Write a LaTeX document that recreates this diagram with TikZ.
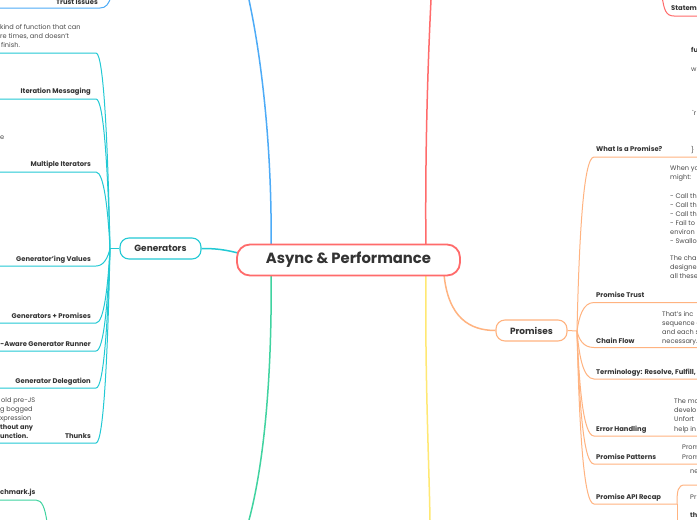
\documentclass[tikz,border=0pt]{standalone}
\usepackage{fontspec}
\setmainfont{Poppins}
\usetikzlibrary{calc}
\definecolor{cred}{HTML}{FF6B6B}
\definecolor{cblue}{HTML}{4DABF7}
\definecolor{ccyan}{HTML}{22C9D4}
\definecolor{cgreen}{HTML}{40D3A0}
\definecolor{cyellow}{HTML}{FFE873}
\definecolor{corange}{HTML}{FFB380}
\definecolor{ink}{HTML}{333333}
\definecolor{bodyink}{HTML}{4A4A4A}
\pgfdeclarelayer{bg}
\pgfsetlayers{bg,main}
\begin{document}
\begin{tikzpicture}[x=1pt,y=-1pt,
  mainline/.style={line width=1.5pt},
  subline/.style={line width=1pt},
  rootbox/.style={draw=cred, line width=1.8pt, rounded corners=13pt, fill=white,
    minimum width=223pt, minimum height=31pt, text=ink,
    font=\fontsize{14.8}{17}\selectfont\bfseries},
  topicbox/.style={line width=1.1pt, rounded corners=9pt, fill=white,
    minimum height=21pt, text=ink, font=\fontsize{9}{11}\selectfont\bfseries},
  title/.style={font=\fontsize{6.8}{8}\selectfont\bfseries, text=ink, inner sep=0pt},
  body/.style={font=\fontsize{6.6}{8}\selectfont, text=bodyink, inner sep=0pt},
  bodyb/.style={font=\fontsize{6.6}{8}\selectfont\bfseries, text=ink, inner sep=0pt}]
\useasboundingbox (0,0) rectangle (697,520);
\clip (0,0) rectangle (697,520);

% main nodes
\node[rootbox] (root) at (348.5,260) {Async \& Performance};
\node[topicbox, draw=ccyan, minimum width=81pt] (gen) at (160.5,248.5) {Generators};
\node[topicbox, draw=corange, minimum width=71pt] (prom) at (531.5,330.5) {Promises};

\coordinate (gj) at (110,248.5);
\coordinate (pj) at (577,331);
\coordinate (bEnd) at (249,0);
\coordinate (rEnd) at (431,0);
\coordinate (gEnd) at (249,520);
\coordinate (yEnd) at (430,520);

% ---------- Generators children text ----------
\node[title, anchor=base east] (trust) at (98,4) {Trust Issues};
\node[body, anchor=base west] (k1) at (0,29.5) {kind of function that can};
\node[body, anchor=base west] (k2) at (0,38.5) {re times, and doesn't};
\node[body, anchor=base west] (k3) at (1,47.5) {finish.};
\node[body, anchor=base west] (ge) at (0,139) {e};
\node[title, anchor=base east] (g2) at (91,93.5) {Iteration Messaging};
\node[title, anchor=base east] (g3) at (91,166.5) {Multiple Iterators};
\node[title, anchor=base east] (g4) at (91,261) {Generator'ing Values};
\node[title, anchor=base east] (g5) at (91,318) {Generators + Promises};
\node[title, anchor=base east] (g6) at (91,346) {e-Aware Generator Runner};
\node[title, anchor=base east] (g7) at (91,383) {Generator Delegation};
\node[title, anchor=base east] (g8) at (91,438) {Thunks};
\node[body, anchor=base west] (th1) at (1,402.5) {old pre-JS};
\node[body, anchor=base west] (th2) at (0,411.5) {g bogged};
\node[body, anchor=base west] (th3) at (0,420.5) {xpression};
\node[bodyb, anchor=base west] (th4) at (0,429.5) {thout any};
\node[bodyb, anchor=base west] (th5) at (0,438.5) {unction.};
\node[title, anchor=base west] (bench) at (0,494) {chmark.js};

% ---------- Promises children text ----------
\node[title, anchor=base west] (p1) at (596,151.5) {What Is a Promise?};
\node[bodyb, anchor=base west] (c1) at (691,52.5) {fu};
\node[body, anchor=base west] (c2) at (691,71.5) {w};
\node[body, anchor=base west] (c3) at (692,115.5) {\textasciigrave r};
\node[body, anchor=base west] (c4) at (691,152.5) {\}};
\node[title, anchor=base west] (p2) at (596,297.5) {Promise Trust};
\node[body, anchor=base west] (w1) at (670,170.5) {When yo};
\node[body, anchor=base west] (w2) at (670,179.5) {might:};
\node[body, anchor=base west] (w3) at (670,198) {- Call th};
\node[body, anchor=base west] (w4) at (670,207) {- Call th};
\node[body, anchor=base west] (w5) at (670,216) {- Call th};
\node[body, anchor=base west] (w6) at (670,225) {- Fail to};
\node[body, anchor=base west] (w7) at (670,234) {environ};
\node[body, anchor=base west] (w8) at (670,243) {- Swallo};
\node[body, anchor=base west] (w9) at (670,260.5) {The cha};
\node[body, anchor=base west] (w10) at (670,269.5) {designe};
\node[body, anchor=base west] (w11) at (670,278.5) {all these};
\node[title, anchor=base west] (p3) at (596,343.5) {Chain Flow};
\node[body, anchor=base west] (f1) at (662,316.5) {That's inc};
\node[body, anchor=base west] (f2) at (662,325.5) {sequence o};
\node[body, anchor=base west] (f3) at (662,334.5) {and each s};
\node[body, anchor=base west] (f4) at (662,343.5) {necessary.};
\node[title, anchor=base west] (p4) at (596,374.5) {Terminology: Resolve, Fulfill,};
\node[title, anchor=base west] (p5) at (596,431.5) {Error Handling};
\node[body, anchor=base west] (e1) at (674,403.5) {The mo};
\node[body, anchor=base west] (e2) at (674,412.5) {develo};
\node[body, anchor=base west] (e3) at (674,421.5) {Unfort};
\node[body, anchor=base west] (e4) at (674,431) {help in};
\node[title, anchor=base west] (p6) at (596,459.5) {Promise Patterns};
\node[body, anchor=base west] (pp1) at (682,449.5) {Prom};
\node[body, anchor=base west] (pp2) at (682,459) {Prom};
\node[title, anchor=base west] (p7) at (596,499.5) {Promise API Recap};
\node[body, anchor=base west] (a1) at (690,473.5) {ne};
\node[body, anchor=base west] (a2) at (690,499.5) {Pr};
\node[bodyb, anchor=base west] (a3) at (690,517.5) {th};
\node[title, anchor=base west] (stm) at (671,10.5) {Statem};

\begin{pgfonlayer}{bg}
\fill[white] (0,0) rectangle (697,520);
% main branches from root
\draw[mainline, cblue] ($(root.north west)+(35,2)$) .. controls (272,150) and (262,60) .. (bEnd);
\draw[mainline, cred] ($(root.north east)+(-35,2)$) .. controls (425,150) and (428,60) .. (rEnd);
\draw[mainline, cgreen] ($(root.south west)+(35,-2)$) .. controls (272,370) and (265,460) .. (gEnd);
\draw[mainline, cyellow] ($(root.south east)+(-35,-2)$) .. controls (425,380) and (429,460) .. (yEnd);
\draw[mainline, corange] ($(root.south east)+(-17,-3)$) .. controls (448,318) and (470,330.5) .. (prom.west);
\draw[mainline, ccyan] (gen.east) .. controls (222,248.5) and (230,251) .. ($(root.west)+(10,-5)$);

% generators subtree
\draw[subline, ccyan] (gen.west) -- (gj);
\foreach \yc in {53,99,172,266,323,351,388,443}{
  \draw[subline, ccyan] (gj) .. controls (108,{(248.5+\yc)/2}) and (104,\yc) .. (96,\yc) -- (-2,\yc);
}
% promises subtree
\draw[subline, corange] (prom.east) -- (pj);
\foreach \yc in {157,302.5,347.5,379,436,464}{
  \draw[subline, corange] (pj) .. controls (579,{(331+\yc)/2}) and (583,\yc) .. (594,\yc) -- (699,\yc);
}
\coordinate (aj) at (677,504);
\draw[subline, corange] (pj) .. controls (579,417.5) and (583,504) .. (594,504) -- (aj);
\draw[subline, corange] (aj) .. controls (677,490) and (678,485) .. (685,485) -- (699,485);
\draw[subline, corange] (aj) -- (677,525);

% partial branches at the edges
\coordinate (tiU) at (-2,8);
\draw[subline, cblue] (tiU) -- (100,8) .. controls (106,8) and (109,4) .. (111,-4);
\coordinate (stU) at (699,16);
\draw[subline, cred] (662,-4) .. controls (664,10) and (666,16) .. (674,16) -- (stU);
\coordinate (bmU) at (-2,500);
\draw[subline, cgreen] (bmU) -- (36,500) .. controls (42,500) and (45,508) .. (47,522);
\end{pgfonlayer}
\end{tikzpicture}
\end{document}
